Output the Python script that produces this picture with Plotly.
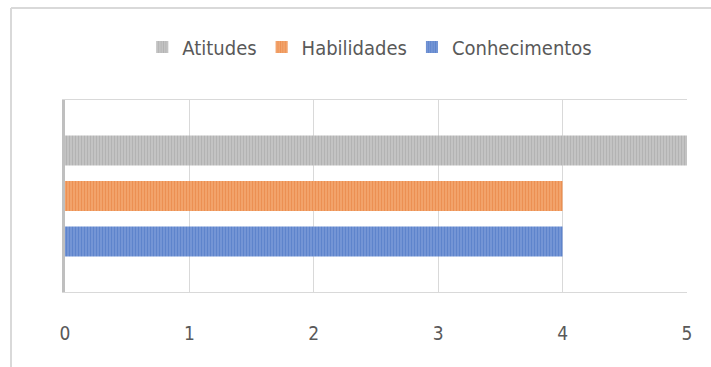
import plotly.graph_objects as go

categories = [""]
series_names = ["Conhecimentos", "Habilidades", "Atitudes"]
values_conhecimentos = [4]
values_habilidades = [4]
values_atitudes = [5]
tick_vals = [0, 1, 2, 3, 4, 5]
tick_text = ["0", "1", "2", "3", "4", "5"]

bg_colors = ["#7898D6", "#F3A670", "#C6C6C6"]
fg_colors = ["#4470C2", "#E57A35", "#A0A0A0"]
series_values = [values_conhecimentos, values_habilidades, values_atitudes]

FONT = "DejaVu Sans Condensed, Open Sans, sans-serif"

fig = go.Figure()
for name, vals, bg, fg in zip(series_names, series_values, bg_colors, fg_colors):
    fig.add_trace(go.Bar(
        name=name, y=categories, x=vals, orientation="h",
        marker=dict(color=bg, line=dict(width=0),
                    pattern=dict(shape="|", size=3, solidity=0.45, fgcolor=fg, bgcolor=bg)),
    ))

fig.update_layout(
    width=711, height=367,
    margin=dict(l=65, r=24, t=100, b=75),
    paper_bgcolor="white", plot_bgcolor="white",
    barmode="group", bargap=0.29, bargroupgap=0.34,
    showlegend=True,
    legend=dict(orientation="h", traceorder="reversed", x=0.49, xanchor="center",
                y=1.276, yanchor="middle", font=dict(family=FONT, size=20, color="#595959"),
                itemwidth=30, bgcolor="rgba(0,0,0,0)"),
    font=dict(family=FONT, color="#595959"),
)
fig.update_xaxes(range=[0, 5], tickvals=tick_vals, ticktext=tick_text,
                 showgrid=True, gridcolor="#D9D9D9", gridwidth=1, zeroline=False,
                 showline=True, mirror=True, linecolor="#D9D9D9", linewidth=1,
                 ticks="", ticklabelstandoff=24,
                 tickfont=dict(family=FONT, size=19, color="#595959"))
fig.update_yaxes(showgrid=False, zeroline=False, showticklabels=False, ticks="",
                 showline=True, linecolor="#BFBFBF", linewidth=3)

# outer chart border (top and left edges)
fig.add_shape(type="line", xref="paper", yref="paper",
              x0=(11 - 65) / 622, x1=1.2, y0=(292 - 8) / 192, y1=(292 - 8) / 192,
              line=dict(color="#D9D9D9", width=2))
fig.add_shape(type="line", xref="paper", yref="paper",
              x0=(11 - 65) / 622, x1=(11 - 65) / 622, y0=(292 - 8) / 192, y1=-0.6,
              line=dict(color="#D9D9D9", width=2))

fig.write_html("out.html")
